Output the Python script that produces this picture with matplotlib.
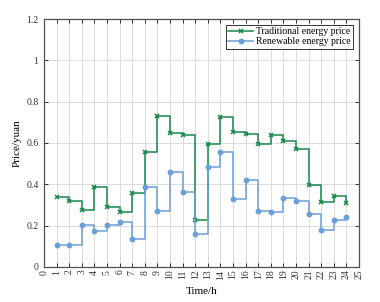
import matplotlib
matplotlib.use("Agg")
import matplotlib.pyplot as plt
import numpy as np

hours = np.arange(1, 25)
traditional_price = [0.337, 0.318, 0.277, 0.389, 0.292, 0.268, 0.356, 0.555,
                     0.730, 0.650, 0.637, 0.227, 0.593, 0.724, 0.652, 0.642,
                     0.595, 0.637, 0.611, 0.571, 0.397, 0.313, 0.342, 0.308]
renewable_price = [0.105, 0.105, 0.202, 0.176, 0.205, 0.216, 0.137, 0.385,
                   0.271, 0.461, 0.361, 0.161, 0.482, 0.556, 0.327, 0.423,
                   0.269, 0.268, 0.332, 0.321, 0.255, 0.177, 0.226, 0.244]
x_ticks = np.arange(0, 26)
y_ticks = [0, 0.2, 0.4, 0.6, 0.8, 1.0, 1.2]
y_tick_labels = ['0', '0.2', '0.4', '0.6', '0.8', '1', '1.2']

plt.rcParams['font.family'] = ['Liberation Serif', 'DejaVu Serif']
plt.rcParams['font.size'] = 7

fig = plt.figure(figsize=(3.8, 3.02), dpi=100)
ax = fig.add_axes([0.116, 0.116, 0.829, 0.821])

green = '#17874a'
blue = '#6a9fd8'
ax.step(hours, traditional_price, where='post', color=green, lw=1.1,
        marker='x', ms=3, mew=1.1, label='Traditional energy price')
ax.step(hours, renewable_price, where='post', color=blue, lw=1.1,
        marker='o', ms=3.2, label='Renewable energy price')

ax.set_xlim(0, 25)
ax.set_ylim(0, 1.2)
ax.set_xticks(x_ticks)
ax.set_xticklabels([str(t) for t in x_ticks], rotation=90)
ax.set_yticks(y_ticks)
ax.set_yticklabels(y_tick_labels)
ax.grid(True, color='#dcdcdc', lw=0.7)
ax.set_axisbelow(True)
ax.tick_params(direction='in', top=True, right=True, length=3, width=0.7,
               labelsize=7, colors='#333333')
ax.tick_params(axis='x', pad=2)
ax.tick_params(axis='y', pad=4)
for spine in ax.spines.values():
    spine.set_color('#505050')
    spine.set_linewidth(0.9)

ax.set_xlabel('Time/h', fontsize=8, labelpad=5)
ax.set_ylabel('Price/yuan', fontsize=8, labelpad=3)

leg = ax.legend(loc='upper right', fontsize=7, frameon=True, fancybox=False,
                edgecolor='#333333', framealpha=1, borderpad=0.25,
                handlelength=2.6, handletextpad=0.3, labelspacing=0.1,
                borderaxespad=0.6)
leg.get_frame().set_linewidth(0.7)

fig.savefig('out.png', dpi=100)
